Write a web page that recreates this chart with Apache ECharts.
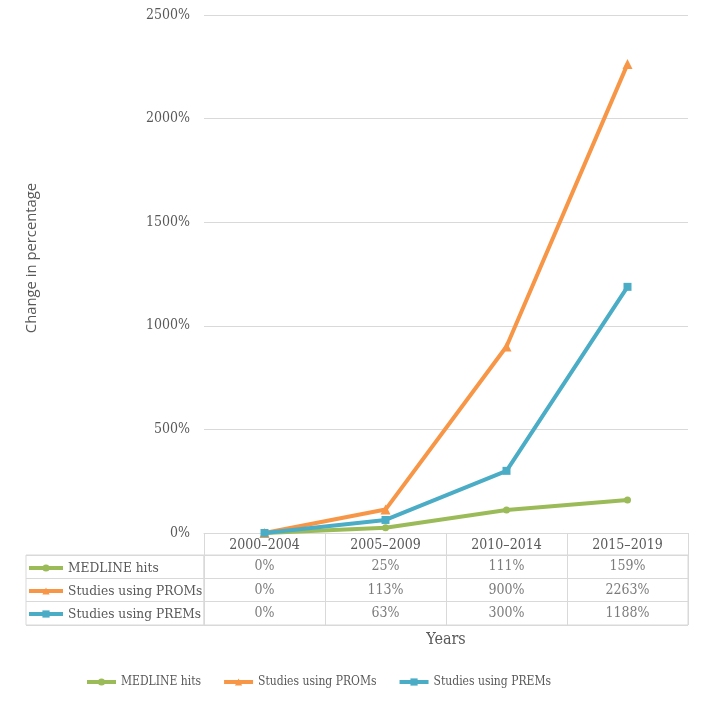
<!DOCTYPE html>
<html>
<head>
<meta charset="utf-8">
<script src="https://cdn.jsdelivr.net/npm/echarts@6/dist/echarts.min.js"></script>
<style>html,body{margin:0;padding:0;background:#fff}#c{width:704px;height:704px}</style>
</head>
<body>
<div id="c"></div>
<script>
const years = ['2000\u20132004', '2005\u20132009', '2010\u20132014', '2015\u20132019'];
const seriesNames = ['MEDLINE hits', 'Studies using PROMs', 'Studies using PREMs'];
const medline = [0, 25, 111, 159];
const proms = [0, 113, 900, 2263];
const prems = [0, 63, 300, 1188];
const yTicks = { min: 0, max: 2500, interval: 500 };

const colors = ['#9BBB59', '#F79646', '#4BACC6'];
const symbols = ['circle', 'triangle', 'rect'];
const symbolSizes = [7, 10, 8];
const allValues = [medline, proms, prems];
const FONT = '"DejaVu Serif Condensed", "DejaVu Serif", serif';
const TXT = '#595959';
const GRIDC = '#d9d9d9';

const tableData = [];
allValues.forEach((vals, s) => {
  vals.forEach((v, i) => tableData.push([years[i], seriesNames[s], v]));
});

const chart = echarts.init(document.getElementById('c'), null, { renderer: 'canvas' });
chart.setOption({
  animation: false,
  color: colors,
  textStyle: { fontFamily: FONT, color: TXT },
  grid: [
    { left: 204, right: 16, top: 15, bottom: 171 },
    { left: 204, right: 16, top: 555, bottom: 79, show: true, borderColor: GRIDC, borderWidth: 1 },
    { left: 26, width: 178, top: 555, bottom: 79, show: true, borderColor: GRIDC, borderWidth: 1 }
  ],
  xAxis: [
    {
      gridIndex: 0, type: 'category', data: years, boundaryGap: true,
      axisLine: { show: true, lineStyle: { color: GRIDC } },
      axisTick: { show: true, length: 22, alignWithLabel: false, interval: 0, lineStyle: { color: GRIDC } },
      axisLabel: { interval: 0, margin: 5, fontSize: 14, color: TXT, fontFamily: FONT },
      splitLine: { show: false }
    },
    {
      gridIndex: 1, type: 'category', data: years, boundaryGap: true,
      axisLine: { show: false }, axisTick: { show: false }, axisLabel: { show: false },
      splitLine: { show: true, interval: 0, lineStyle: { color: GRIDC } },
      name: 'Years', nameLocation: 'middle', nameGap: 7,
      nameTextStyle: { fontSize: 16, color: TXT, fontFamily: FONT, verticalAlign: 'top' }
    },
    { gridIndex: 2, type: 'value', show: false }
  ],
  yAxis: [
    {
      gridIndex: 0, type: 'value', min: yTicks.min, max: yTicks.max, interval: yTicks.interval,
      axisLine: { show: false }, axisTick: { show: false },
      axisLabel: { formatter: v => v + '%', margin: 14, fontSize: 14, color: TXT, fontFamily: FONT },
      splitLine: { lineStyle: { color: GRIDC } },
      name: 'Change in percentage', nameLocation: 'middle', nameGap: 165,
      nameTextStyle: { fontSize: 14.8, color: TXT, fontFamily: '"Open Sans", sans-serif', padding: [0, 0, 0, 32] }
    },
    {
      gridIndex: 1, type: 'category', data: seriesNames, inverse: true,
      axisLine: { show: false }, axisTick: { show: false }, axisLabel: { show: false },
      splitLine: { show: true, interval: 0, lineStyle: { color: GRIDC } }
    },
    {
      gridIndex: 2, type: 'category', data: seriesNames, inverse: true,
      axisLine: { show: false }, axisTick: { show: false }, axisLabel: { show: false },
      splitLine: { show: true, interval: 0, lineStyle: { color: GRIDC } }
    }
  ],
  legend: [
    {
      data: seriesNames, left: 80, top: 671, itemWidth: 29, itemHeight: 9, itemGap: 21,
      lineStyle: { width: 4 },
      textStyle: { fontSize: 12, color: TXT, fontFamily: FONT }
    },
    {
      data: seriesNames, orient: 'vertical', left: 22, top: 555, itemWidth: 34, itemHeight: 9, itemGap: 7,
      lineStyle: { width: 4 },
      textStyle: { fontSize: 13.6, color: TXT, fontFamily: FONT, lineHeight: 16 }
    }
  ],
  series: [
    ...seriesNames.map((name, s) => ({
      name, type: 'line', xAxisIndex: 0, yAxisIndex: 0, data: allValues[s],
      symbol: symbols[s], symbolSize: symbolSizes[s], showSymbol: true,
      lineStyle: { width: 4, color: colors[s] }, itemStyle: { color: colors[s] }, z: 3 + s
    })),
    {
      name: 'table', type: 'scatter', xAxisIndex: 1, yAxisIndex: 1, data: tableData,
      symbolSize: 1, itemStyle: { color: 'rgba(0,0,0,0)' }, silent: true,
      label: {
        show: true, position: 'inside', fontSize: 14, color: TXT, fontFamily: FONT,
        formatter: p => p.value[2] + '%'
      }
    }
  ]
});
</script>
</body>
</html>
